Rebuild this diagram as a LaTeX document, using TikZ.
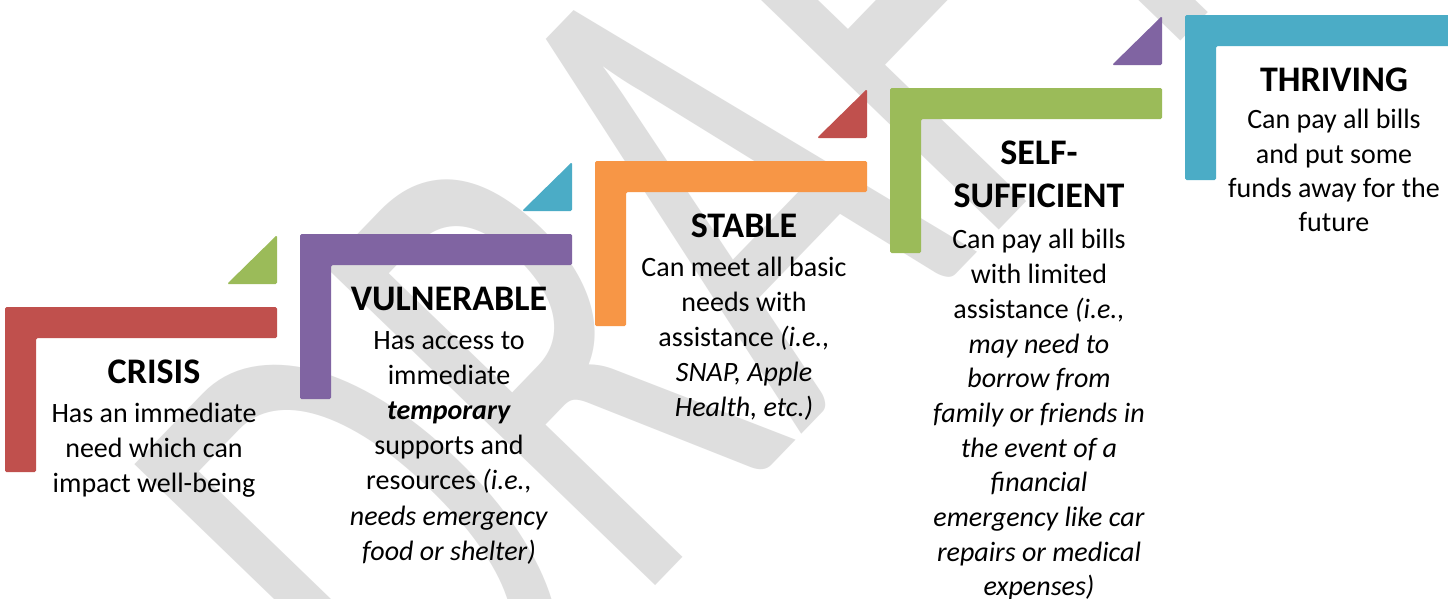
\documentclass[tikz,border=0pt]{standalone}
\usepackage{fontspec}
\setmainfont{Carlito}

\definecolor{crisisred}{HTML}{C0504D}
\definecolor{vulnpurple}{HTML}{8064A2}
\definecolor{stableorange}{HTML}{F79646}
\definecolor{selfgreen}{HTML}{9BBB59}
\definecolor{thriveblue}{HTML}{4BACC6}
\definecolor{wmgray}{RGB}{222,222,222}

\newcommand\stagetitle[1]{{\fontsize{36}{43}\selectfont\bfseries\rule{0pt}{30pt}#1}}

\begin{document}
\begin{tikzpicture}[x=1pt, y=-1pt,
    bar/.style={rounded corners=1.5pt},
    flag/.style={rounded corners=1.5pt},
    stage/.style={align=center, anchor=north, inner sep=0pt, font=\fontsize{28}{35.2}\selectfont},
    tight/.style={font=\fontsize{28}{34.4}\selectfont},
    long/.style={font=\fontsize{28}{34.7}\selectfont},
    wm/.style={rotate=46, xscale=4.43, yscale=7.14, inner sep=0pt, text=wmgray, font=\fontsize{100}{100}\selectfont}]

\useasboundingbox (0,0) rectangle (1448,598);
\fill[white] (0,0) rectangle (1448,598);

%filigrane

\node[wm] (draft) at (692,218) {DRAFT};

%crisis

\fill[bar, crisisred] (5,307) -- (277,307) -- (277,338) -- (36,338) -- (36,472) -- (5,472) -- cycle;
\fill[flag, selfgreen] (227,284) -- (277,284) -- (277,235) -- cycle;
\node[stage] (crisis) at (154,353) {
    \stagetitle{CRISIS}\\[3.7pt]
    Has an immediate\\
    need which can\\
    impact well-being
};

%vulnerable

\fill[bar, vulnpurple] (300,234) -- (572,234) -- (572,265) -- (331,265) -- (331,399) -- (300,399) -- cycle;
\fill[flag, thriveblue] (522,211) -- (572,211) -- (572,162) -- cycle;
\node[stage] (vuln) at (449,280) {
    \stagetitle{VULNERABLE}\\[3.7pt]
    Has access to\\
    immediate\\
    \textbf{\textit{temporary}}\\
    supports and\\
    resources \textit{(i.e.,}\\
    \textit{needs emergency}\\
    \textit{food or shelter)}
};

%stable

\fill[bar, stableorange] (595,161) -- (867,161) -- (867,192) -- (626,192) -- (626,326) -- (595,326) -- cycle;
\fill[flag, crisisred] (817,138) -- (867,138) -- (867,89) -- cycle;
\node[stage] (stable) at (744,207) {
    \stagetitle{STABLE}\\[3.7pt]
    Can meet all basic\\
    needs with\\
    assistance \textit{(i.e.,}\\
    \textit{SNAP, Apple}\\
    \textit{Health, etc.)}
};

%self-sufficient

\fill[bar, selfgreen] (890,88) -- (1162,88) -- (1162,119) -- (921,119) -- (921,253) -- (890,253) -- cycle;
\fill[flag, vulnpurple] (1112,65) -- (1162,65) -- (1162,16) -- cycle;
\node[stage, long] (selfsuff) at (1039,134) {
    \stagetitle{SELF-}\\[8.3pt]
    \stagetitle{SUFFICIENT}\\[7pt]
    Can pay all bills\\
    with limited\\
    assistance \textit{(i.e.,}\\
    \textit{may need to}\\
    \textit{borrow from}\\
    \textit{family or friends in}\\
    \textit{the event of a}\\
    \textit{financial}\\
    \textit{emergency like car}\\
    \textit{repairs or medical}\\
    \textit{expenses)}
};

%thriving

\fill[bar, thriveblue] (1185,15) -- (1457,15) -- (1457,46) -- (1216,46) -- (1216,180) -- (1185,180) -- cycle;
\node[stage, tight] (thriving) at (1334,61) {
    \stagetitle{THRIVING}\\[3pt]
    Can pay all bills\\
    and put some\\
    funds away for the\\
    future
};
\end{tikzpicture}
\end{document}
